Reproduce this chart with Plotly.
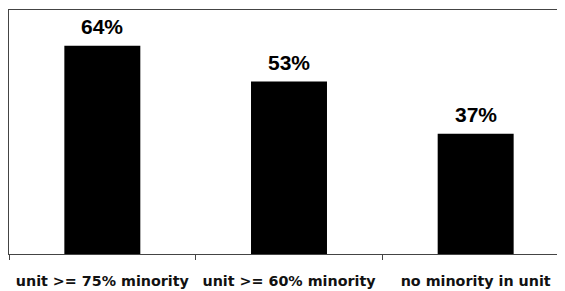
import plotly.graph_objects as go

categories = ["unit >= 75% minority", "unit >= 60% minority", "no minority in unit"]
values = [64, 53, 37]
labels = ["64%", "53%", "37%"]

fig = go.Figure(go.Bar(
    x=categories, y=values,
    marker=dict(color="black", line=dict(width=0)),
))
for c, v, t in zip(categories, values, labels):
    fig.add_annotation(
        x=c, y=v, text=t, showarrow=False, yanchor="bottom", yshift=6,
        font=dict(family="Liberation Sans", size=21, color="black", weight="bold"),
    )
fig.update_layout(
    width=561, height=283,
    margin=dict(l=1, r=0, t=2, b=37),
    plot_bgcolor="white", paper_bgcolor="white",
    bargap=0.593, showlegend=False,
    font=dict(family="DejaVu Sans", color="black"),
)
fig.update_xaxes(
    type="category", tickson="boundaries", ticks="outside", ticklen=5,
    tickcolor="#444", showline=True, linecolor="#444", linewidth=1, mirror=True,
    tickfont=dict(family="DejaVu Sans", size=14.3, weight="bold", color="#111"),
    ticklabelstandoff=14, showgrid=False,
)
fig.update_yaxes(
    range=[0, 75], showticklabels=False, showgrid=False, zeroline=False,
    showline=True, linecolor="#444", linewidth=1, ticks="",
)
fig.write_html("out.html")
